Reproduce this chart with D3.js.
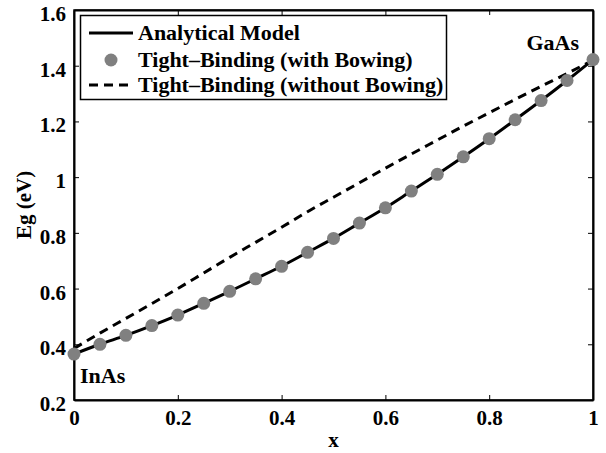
<!DOCTYPE html>
<html>
<head>
<meta charset="utf-8">
<script src="https://unpkg.com/d3@7/dist/d3.min.js"></script>
<style>
  body { margin: 0; background: #fff; }
  text { font-family: "Liberation Serif", "Times New Roman", serif; font-weight: bold; }
</style>
</head>
<body>
<div id="chart"></div>
<script>
const w = 606, h = 453
const margin = {left: 74, right: 13, top: 10, bottom: 53}

// x composition
const xs = [0, 0.05, 0.1, 0.15, 0.2, 0.25, 0.3, 0.35, 0.4, 0.45, 0.5,
    0.55, 0.6, 0.65, 0.7, 0.75, 0.8, 0.85, 0.9, 0.95, 1]
// analytical model (solid) and tight-binding with bowing (dots)
const egBowing = [0.365, 0.40, 0.432, 0.467, 0.505, 0.547, 0.59, 0.635, 0.68, 0.73, 0.78,
    0.835, 0.89, 0.95, 1.01, 1.073, 1.138, 1.206, 1.275, 1.347, 1.422]
// tight-binding without bowing (dashed)
const egNoBowing = [0.385, 0.44, 0.493, 0.546, 0.60, 0.656, 0.712, 0.766, 0.82, 0.876, 0.928,
    0.98, 1.032, 1.083, 1.133, 1.183, 1.231, 1.279, 1.326, 1.372, 1.42]

const xTicks = [0, 0.2, 0.4, 0.6, 0.8, 1]
const yTicks = [0.2, 0.4, 0.6, 0.8, 1, 1.2, 1.4, 1.6]
const legendLabels = ['Analytical Model', 'Tight\u2013Binding (with Bowing)', 'Tight\u2013Binding (without Bowing)']

const svg = d3.select('#chart').append('svg')
    .attr('width', w)
    .attr('height', h)

let x = d3.scaleLinear().domain([0, 1]).range([margin.left, w - margin.right])
let y = d3.scaleLinear().domain([0.2, 1.6]).range([h - margin.bottom, margin.top])

let fmt = d => d3.format('')(+d.toFixed(1))

// axes with inward ticks, mirrored
svg.append('g')
    .attr('transform', `translate(0,${h - margin.bottom})`)
    .call(d3.axisBottom(x).tickValues(xTicks).tickSizeInner(-5).tickSizeOuter(0).tickPadding(10).tickFormat(fmt))
svg.append('g')
    .attr('transform', `translate(0,${margin.top})`)
    .call(d3.axisTop(x).tickValues(xTicks).tickSizeInner(-5).tickSizeOuter(0).tickFormat(''))
let yAxisG = svg.append('g')
    .attr('transform', `translate(${margin.left},0)`)
    .call(d3.axisLeft(y).tickValues(yTicks).tickSizeInner(-5).tickSizeOuter(0).tickPadding(8).tickFormat(fmt))
yAxisG.selectAll('.tick text').attr('dy', '0.5em')
svg.append('g')
    .attr('transform', `translate(${w - margin.right},0)`)
    .call(d3.axisRight(y).tickValues(yTicks).tickSizeInner(-5).tickSizeOuter(0).tickFormat(''))

svg.selectAll('.domain').attr('stroke', '#000').attr('stroke-width', 2)
svg.selectAll('.tick line').attr('stroke', '#000').attr('stroke-width', 1)
svg.selectAll('.tick text').attr('font-size', 21).attr('fill', '#000')
    .style('font-family', '"Liberation Serif", serif').style('font-weight', 'bold')

svg.append('rect')
    .attr('x', margin.left).attr('y', margin.top)
    .attr('width', w - margin.left - margin.right)
    .attr('height', h - margin.top - margin.bottom)
    .attr('fill', 'none').attr('stroke', '#000').attr('stroke-width', 1.5)

// lines
let line = d3.line().x(d => x(d[0])).y(d => y(d[1])).curve(d3.curveMonotoneX)

svg.append('path')
    .attr('d', line(xs.map((d, i) => [d, egNoBowing[i]])))
    .attr('fill', 'none').attr('stroke', '#000').attr('stroke-width', 3)
    .attr('stroke-dasharray', '9,6')

svg.append('path')
    .attr('d', line(xs.map((d, i) => [d, egBowing[i]])))
    .attr('fill', 'none').attr('stroke', '#000').attr('stroke-width', 3)

svg.selectAll('circle.tb')
    .data(xs)
    .enter()
    .append('circle')
    .attr('class', 'tb')
    .attr('cx', d => x(d))
    .attr('cy', (d, i) => y(egBowing[i]))
    .attr('r', 6.5)
    .attr('fill', '#808080')

// annotations
svg.append('text').text('InAs').attr('x', 80).attr('y', 383).attr('font-size', 22)
svg.append('text').text('GaAs').attr('x', 579).attr('y', 50).attr('font-size', 22).attr('text-anchor', 'end')

// axis labels
svg.append('text').text('x')
    .attr('x', (margin.left + w - margin.right) / 2).attr('y', 447)
    .attr('text-anchor', 'middle').attr('font-size', 21)
svg.append('text').text('Eg (eV)')
    .attr('transform', `translate(31,${(margin.top + h - margin.bottom) / 2}) rotate(-90)`)
    .attr('text-anchor', 'middle').attr('font-size', 21)

// legend
let lg = svg.append('g')
lg.append('rect')
    .attr('x', 80.5).attr('y', 15.5).attr('width', 366).attr('height', 84)
    .attr('fill', '#fff').attr('stroke', '#000').attr('stroke-width', 1.5)
let rowY = [33, 60, 85]
lg.append('line').attr('x1', 89).attr('x2', 133).attr('y1', rowY[0]).attr('y2', rowY[0])
    .attr('stroke', '#000').attr('stroke-width', 3)
lg.append('circle').attr('cx', 111).attr('cy', rowY[1]).attr('r', 6.5).attr('fill', '#808080')
lg.append('line').attr('x1', 89).attr('x2', 133).attr('y1', rowY[2]).attr('y2', rowY[2])
    .attr('stroke', '#000').attr('stroke-width', 3).attr('stroke-dasharray', '9,6')
lg.selectAll('text.lab')
    .data(legendLabels)
    .enter()
    .append('text')
    .attr('class', 'lab')
    .text(d => d)
    .attr('x', 138)
    .attr('y', (d, i) => rowY[i] + 7)
    .attr('font-size', 22)
</script>
</body>
</html>
